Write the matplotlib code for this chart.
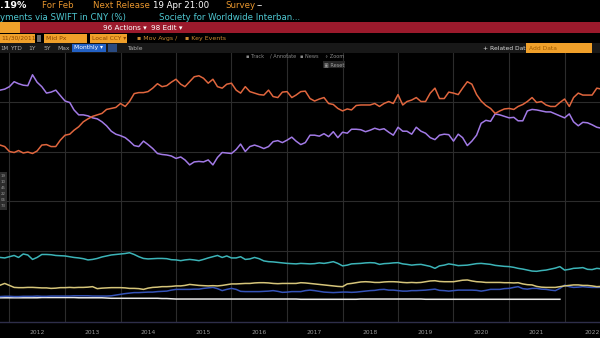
import numpy as np
import pandas as pd
import matplotlib
matplotlib.use("Agg")
import matplotlib.pyplot as plt
import matplotlib.dates as mdates
from matplotlib.patches import Rectangle
from matplotlib.ticker import NullFormatter

# monthly values, Nov 2011 onwards (share of SWIFT payments, %)
orange_vals = [31.3, 31.0, 30.0, 29.8, 30.2, 29.7, 29.9, 29.6, 30.1, 31.3, 31.4, 31.0, 31.0,
               32.3, 33.3, 33.5, 34.3, 35.0, 36.0, 36.6, 37.1, 37.4, 37.7, 38.5, 38.7, 38.9,
               39.7, 39.1, 40.1, 41.7, 41.9, 41.9, 42.1,
               42.8, 43.7, 43.1, 43.3, 44.0, 44.6, 43.6, 43.1, 44.1, 45.1, 45.3, 44.8, 43.8,
               44.6, 43.1, 42.8, 43.6, 43.8, 42.4, 41.8, 43.1, 42.1, 41.8, 41.5, 41.4, 42.4,
               41.1, 40.9, 42.0, 42.1, 40.9, 41.4,
               42.1, 42.2, 40.7, 40.2, 40.6, 40.9, 39.7, 39.5, 38.7, 38.2, 38.6, 38.4, 39.3,
               39.4, 39.4, 39.4, 39.7, 39.1, 39.7, 40.1, 39.7, 41.5, 39.4, 40.1, 40.4, 40.9,
               40.1, 40.1, 41.8, 42.8, 40.7, 40.7, 42.0,
               41.8, 41.5, 42.8, 44.1, 43.6, 41.5, 40.2, 39.3, 38.7, 37.7, 38.2, 38.6, 38.7,
               38.5, 39.1, 39.5, 40.1, 40.9, 39.9, 40.1, 39.4, 39.1, 39.1, 39.9, 40.6, 39.1,
               40.9, 41.8, 41.4, 41.4, 41.4, 42.8, 42.6]
purple_vals = [42.4, 42.6, 43.1, 44.1, 43.7, 43.4, 43.3, 45.5, 44.0, 43.1, 41.8, 42.0, 42.4,
               41.3, 40.2, 39.9, 38.4, 37.4, 37.4, 37.2, 36.8, 36.6, 36.0, 35.2, 34.1, 33.5,
               33.2, 32.8, 32.1, 31.2, 31.0, 32.1, 31.4,
               30.6, 29.6, 29.4, 29.3, 29.1, 28.6, 28.9, 28.3, 27.3, 27.9, 28.0, 27.9, 28.3,
               27.3, 28.8, 29.8, 29.7, 29.6, 30.4, 31.5, 30.0, 31.0, 31.3, 31.0, 30.6, 31.0,
               32.0, 32.2, 31.8, 32.3, 32.9, 32.1,
               31.4, 31.8, 33.3, 33.3, 33.1, 33.6, 33.0, 34.0, 32.8, 33.9, 33.7, 34.5, 34.5,
               34.4, 34.0, 34.3, 34.7, 34.4, 34.6, 33.9, 33.3, 34.9, 34.1, 34.1, 33.5, 34.9,
               34.1, 33.7, 32.8, 32.4, 33.3, 33.5, 33.4,
               32.1, 33.5, 32.8, 31.2, 32.1, 33.3, 35.7, 36.3, 36.1, 37.6, 37.4, 37.1, 36.8,
               36.9, 36.2, 36.2, 38.2, 38.5, 38.4, 38.2, 38.0, 38.0, 37.6, 37.2, 36.8, 37.6,
               36.0, 35.2, 35.9, 35.8, 35.4, 34.9, 34.7]
cyan_vals = [8.6, 8.5, 8.75, 9.0, 8.6, 9.3, 9.1, 8.2, 8.6, 9.2, 9.2, 9.15, 9.0, 8.95, 8.9,
             8.75, 8.6, 8.5, 8.35, 8.1, 8.2, 8.4, 8.7, 8.9, 9.1, 9.2, 9.3, 9.4, 9.55, 9.2,
             8.75, 8.4, 8.3,
             8.35, 8.4, 8.4, 8.35, 8.15, 8.1, 7.95, 8.1, 8.2, 8.1, 7.95, 8.2, 8.5, 8.75, 9.0,
             8.6, 8.9, 8.5, 8.5, 8.75, 8.2, 8.3, 8.6, 8.35, 7.9, 7.75, 7.7, 7.6, 7.5, 7.4,
             7.35, 7.3,
             7.4, 7.35, 7.3, 7.35, 7.5, 7.4, 7.55, 7.75, 7.4, 6.9, 7.05, 7.3, 7.35, 7.4, 7.5,
             7.55, 7.5, 7.2, 7.35, 7.4, 7.5, 7.55, 7.3, 7.2, 7.05, 7.15, 7.2, 7.0, 6.8, 6.4,
             6.9, 7.05, 7.3,
             7.15, 6.95, 7.0, 7.05, 7.2, 7.35, 7.4, 7.3, 7.2, 7.0, 6.9, 6.8, 6.75, 6.6, 6.4,
             6.25, 6.05, 5.85, 5.8, 5.95, 6.05, 6.25, 6.45, 6.75, 6.05, 6.2, 6.4, 6.45, 6.55,
             6.2, 6.15, 6.4, 6.3]
yellow_vals = [3.0, 3.35, 2.95, 2.55, 2.5, 2.5, 2.55, 2.55, 2.5, 2.45, 2.45, 2.35, 2.4, 2.5,
               2.5, 2.55, 2.5, 2.55, 2.55, 2.6, 2.7, 2.3, 2.4, 2.45, 2.5, 2.5, 2.5, 2.45, 2.35,
               2.35, 2.3, 2.15, 2.4,
               2.55, 2.6, 2.7, 2.7, 2.75, 2.85, 2.85, 2.95, 3.15, 3.05, 2.95, 2.9, 2.85, 2.9,
               2.85, 2.95, 3.1, 3.25, 3.25, 3.3, 3.35, 3.35, 3.45, 3.5, 3.5, 3.45, 3.35, 3.3,
               3.35, 3.35, 3.35, 3.35,
               3.5, 3.45, 3.35, 3.25, 3.15, 3.05, 2.95, 2.85, 2.75, 2.7, 3.25, 3.35, 3.5, 3.65,
               3.7, 3.65, 3.55, 3.55, 3.65, 3.7, 3.7, 3.65, 3.55, 3.5, 3.55, 3.5, 3.55, 3.7,
               3.85, 3.9, 3.75, 3.7, 3.7,
               3.7, 3.85, 4.0, 4.05, 3.85, 3.7, 3.65, 3.55, 3.55, 3.55, 3.55, 3.5, 3.5, 3.45,
               3.5, 3.25, 3.1, 3.05, 2.75, 2.6, 2.55, 2.55, 2.55, 2.7, 2.85, 2.95, 3.05, 3.05,
               2.95, 2.95, 2.85, 2.7, 2.75]
blue_vals = [0.7, 0.75, 0.75, 0.7, 0.7, 0.75, 0.75, 0.75, 0.8, 0.75, 0.75, 0.8, 0.8, 0.8,
             0.8, 0.8, 0.85, 0.85, 0.85, 0.85, 0.8, 0.8, 0.8, 0.8, 0.85, 1.0, 1.15, 1.3, 1.4,
             1.5, 1.5, 1.55, 1.6,
             1.6, 1.7, 1.75, 1.8, 2.0, 2.15, 2.15, 2.15, 2.15, 2.2, 2.2, 2.35, 2.45, 2.55,
             2.3, 1.9, 2.15, 2.35, 2.15, 1.75, 1.7, 1.7, 1.7, 1.7, 1.75, 1.8, 1.9, 1.75, 1.55,
             1.6, 1.7, 1.7,
             1.7, 1.9, 2.0, 1.9, 1.75, 1.6, 1.55, 1.5, 1.55, 1.6, 1.6, 1.55, 1.6, 1.7, 1.8,
             1.9, 1.95, 2.1, 2.15, 2.0, 2.0, 1.9, 1.8, 1.8, 1.9, 1.9, 1.95, 2.0, 2.1, 2.2,
             1.95, 1.9, 1.8,
             1.9, 2.0, 2.0, 2.0, 2.0, 1.95, 1.8, 1.95, 2.15, 2.15, 2.15, 2.3, 2.35, 2.55, 2.7,
             2.3, 2.2, 2.35, 2.35, 2.2, 2.15, 2.0, 1.9, 2.35, 3.0, 2.7, 2.55, 2.6, 2.7, 2.6,
             2.55, 2.55, 2.55]
white_vals = [0.45, 0.45, 0.45, 0.45, 0.45, 0.45, 0.45, 0.45, 0.45, 0.5, 0.5, 0.5, 0.5, 0.5,
              0.5, 0.5, 0.5, 0.45, 0.45, 0.45, 0.45, 0.45, 0.45, 0.4,
              0.35, 0.35, 0.35, 0.35, 0.35, 0.35, 0.35, 0.35, 0.35, 0.35, 0.35, 0.3, 0.3, 0.25,
              0.2, 0.2, 0.2, 0.2, 0.2, 0.2, 0.2, 0.2, 0.2, 0.2, 0.2, 0.2, 0.2, 0.2, 0.2, 0.2,
              0.2, 0.2, 0.2, 0.2, 0.2, 0.2, 0.2, 0.2, 0.2, 0.2, 0.2,
              0.15, 0.15, 0.15, 0.15, 0.15, 0.15, 0.15, 0.15, 0.15, 0.15, 0.15, 0.15, 0.15,
              0.2, 0.2, 0.2, 0.2, 0.2, 0.2, 0.2, 0.2, 0.2, 0.2, 0.2, 0.2, 0.2, 0.2,
              0.15, 0.15, 0.15, 0.15, 0.15, 0.15, 0.15, 0.15, 0.15, 0.15, 0.15, 0.15, 0.15,
              0.15, 0.15, 0.15, 0.15, 0.15, 0.15, 0.15, 0.15, 0.15, 0.15, 0.15, 0.15, 0.15,
              0.15, 0.15, 0.15, 0.15]

W, H = 600, 338
ORANGE = "#f0a02a"
AMBER = "#e8962e"
CYAN_TXT = "#4ec6d0"

fig = plt.figure(figsize=(6, 3.38), dpi=100, facecolor="black")
ax = fig.add_axes([0, 16 / H, 1, 269 / H])
ax.set_facecolor("black")

dates = pd.date_range("2011-11-01", periods=len(orange_vals), freq="MS")
ax.plot(dates[:len(white_vals)], white_vals, color="#e8e8e8", lw=1.1, zorder=3)
ax.plot(dates, blue_vals, color="#3553b8", lw=1.1, zorder=4)
ax.plot(dates, yellow_vals, color="#d6c57a", lw=1.1, zorder=4)
ax.plot(dates, cyan_vals, color="#3cb4b8", lw=1.1, zorder=4)
ax.plot(dates, purple_vals, color="#a27ae6", lw=1.1, zorder=4)
ax.plot(dates, orange_vals, color="#e0663e", lw=1.1, zorder=5)

ax.set_xlim(pd.Timestamp("2011-10-31"), pd.Timestamp("2022-08-22"))
ax.set_ylim(-4.44, 49.9)
ax.set_yticks([10, 20, 30, 40])
ax.tick_params(axis="y", length=0, labelleft=False)

ax.xaxis.set_major_locator(mdates.YearLocator())
ax.xaxis.set_major_formatter(NullFormatter())
ax.xaxis.set_minor_locator(mdates.MonthLocator(bymonth=7))
ax.xaxis.set_minor_formatter(mdates.DateFormatter("%Y"))
ax.tick_params(axis="x", which="both", length=0)
ax.tick_params(axis="x", which="minor", labelsize=4.3, labelcolor="#9a9a9a", pad=6)
ax.grid(True, which="major", color="#2c2c2c", lw=0.8)

for s in ["top", "left", "right"]:
    ax.spines[s].set_visible(False)
ax.spines["bottom"].set_color("#2e2e4a")
ax.spines["bottom"].set_linewidth(1.0)


def box(x, y, w, h, color, z=6):
    fig.add_artist(Rectangle((x / W, 1 - (y + h) / H), w / W, h / H,
                             transform=fig.transFigure, facecolor=color,
                             edgecolor="none", zorder=z))


def txt(x, y, s, color, size=6.2, **kw):
    fig.text(x / W, 1 - y / H, s, color=color, fontsize=size,
             ha="left", va="center", zorder=8, **kw)


# header line 1 and 2
txt(0, 6, ".19%", "white", size=6.8, weight="bold")
txt(42, 6, "For Feb", AMBER)
txt(93, 6, "Next Release", AMBER)
txt(153, 6, "19 Apr 21:00", "white")
txt(225, 6, "Survey", AMBER)
txt(257, 6, "--", "white")
txt(0, 17, "yments via SWIFT in CNY (%)", CYAN_TXT)
txt(159, 17, "Society for Worldwide Interban...", CYAN_TXT)

# red action bar
box(0, 22, 600, 11, "#9b1a2c")
box(0, 22, 20, 11, ORANGE, z=7)
txt(103, 27.5, "96 Actions \u25be", "white", size=5.2)
txt(151, 27.5, "98 Edit \u25be", "white", size=5.2)

# input row
box(0, 34, 35, 9, ORANGE)
txt(1, 38.5, "11/30/2011", "#8a4500", size=4.3)
box(37, 35, 4, 7, "#6a6a6a")
box(44, 34, 43, 9, ORANGE)
txt(46, 38.5, "Mid Px", "#8a4500", size=4.5)
box(90, 34, 37, 9, ORANGE)
txt(92, 38.5, "Local CCY \u25be", "#8a4500", size=4.3)
txt(137, 38.5, "\u25aa Mov Avgs /", "#c98a30", size=4.5)
txt(185, 38.5, "\u25aa Key Events", "#c98a30", size=4.5)

# period row
box(0, 43, 600, 10, "#181818")
txt(0, 48, "1M", "#b0b0b0", size=4.0)
txt(10, 48, "YTD", "#b0b0b0", size=4.3)
txt(28, 48, "1Y", "#b0b0b0", size=4.3)
txt(43, 48, "5Y", "#b0b0b0", size=4.3)
txt(57, 48, "Max", "#b0b0b0", size=4.3)
box(72, 44, 34, 8, "#2361c4", z=7)
txt(74, 48, "Monthly \u25be", "white", size=4.3)
box(108, 44, 9, 8, "#2a4a80", z=7)
txt(127, 48, "Table", "#b0b0b0", size=4.3)
txt(483, 48, "+ Related Dat", "#dddddd", size=4.3)
box(526, 43.5, 66, 9, ORANGE, z=7)
txt(529, 48, "Add Data", "#a05a00", size=4.3)

# chart toolbar
for x, s in [(246, "\u25aa Track"), (270, "/ Annotate"), (300, "\u25aa News"), (325, "\u2218 Zoom")]:
    txt(x, 56.5, s, "#8a8a8a", size=3.6)
box(323, 61, 22, 7, "#262626")
txt(324, 64.5, "\u25a3 Reset", "#a0a0a0", size=3.6)

# left legend strip
box(0, 172, 7, 38, "#2c2c2c")
for i, s in enumerate(["19", "10", "45", "22", "06", "73"]):
    txt(0.5, 176 + i * 6, s, "#9a9a9a", size=2.8)

fig.savefig("out.png", dpi=100, facecolor="black")
